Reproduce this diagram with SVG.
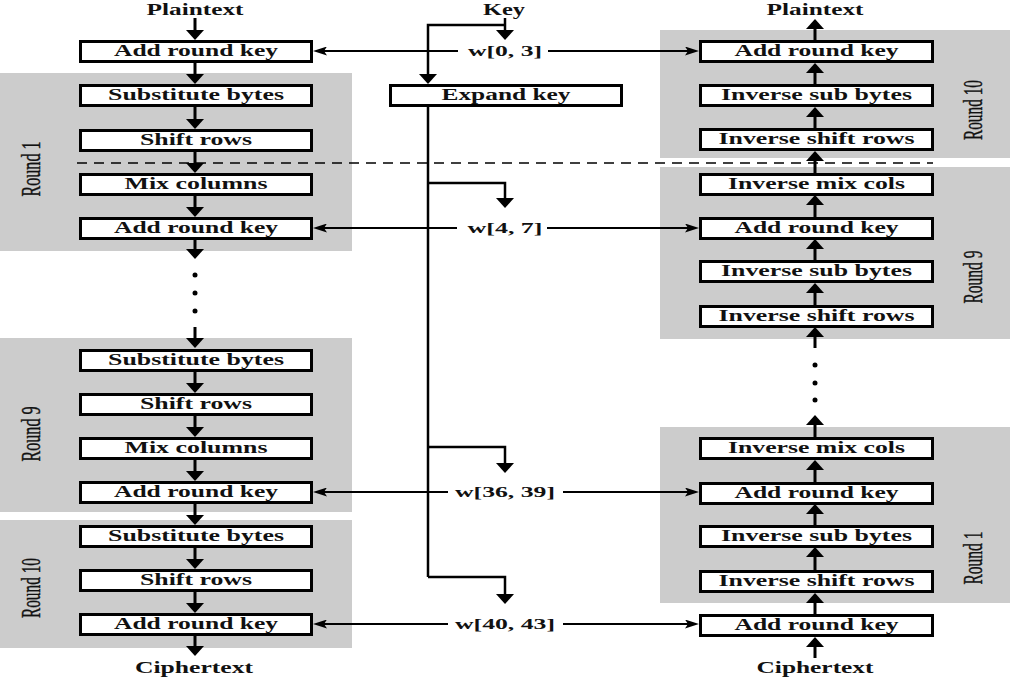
<svg xmlns="http://www.w3.org/2000/svg" width="1012" height="679" viewBox="0 0 1012 679">
<style>
.panel{fill:#cccccc}
.box{fill:#fff;stroke:#000;stroke-width:3}
.lbl{font-family:"Liberation Serif",serif;font-weight:bold;font-size:16px;text-anchor:middle;fill:#111}
.wl{font-family:"Liberation Serif",serif;font-weight:bold;font-size:15px;text-anchor:middle;fill:#111}
.rnd{font-family:"Liberation Serif",serif;font-size:27px;text-anchor:middle;fill:#111;stroke:#111;stroke-width:0.4}
.flow{stroke:#000;stroke-width:3;fill:none;marker-end:url(#ah)}
.key{stroke:#000;stroke-width:2.5;fill:none}
.keya{stroke:#000;stroke-width:2.5;fill:none;marker-end:url(#ah)}
.wa{stroke:#000;stroke-width:2;fill:none;marker-end:url(#wh)}
.dot{fill:#000}
.dash{stroke:#000;stroke-width:1.5;stroke-dasharray:10 7;fill:none}
</style>
<defs>
<marker id="ah" markerUnits="userSpaceOnUse" viewBox="0 0 10 18" markerWidth="10" markerHeight="18" refX="4" refY="9" orient="auto">
<path d="M0,0 L10,9 L0,18 Z" fill="#000"/>
</marker>
<marker id="wh" markerUnits="userSpaceOnUse" viewBox="0 0 14 9" markerWidth="14" markerHeight="9" refX="8" refY="4.5" orient="auto">
<path d="M0,0 L14,4.5 L0,9 L3,4.5 Z" fill="#000"/>
</marker>
</defs>

<g id="panels">
<rect class="panel" x="0" y="73" width="352" height="178"/>
<rect class="panel" x="0" y="338" width="352" height="174"/>
<rect class="panel" x="0" y="520" width="352" height="128"/>
<rect class="panel" x="660" y="30" width="350" height="128"/>
<rect class="panel" x="660" y="167" width="350" height="172"/>
<rect class="panel" x="660" y="427" width="350" height="176"/>
</g>

<g id="round-labels">
<text class="rnd" transform="translate(40,169) rotate(-90)" textLength="55" lengthAdjust="spacingAndGlyphs">Round 1</text>
<text class="rnd" transform="translate(40,434) rotate(-90)" textLength="55" lengthAdjust="spacingAndGlyphs">Round 9</text>
<text class="rnd" transform="translate(40,588) rotate(-90)" textLength="60" lengthAdjust="spacingAndGlyphs">Round 10</text>
<text class="rnd" transform="translate(982,110) rotate(-90)" textLength="60" lengthAdjust="spacingAndGlyphs">Round 10</text>
<text class="rnd" transform="translate(982,277) rotate(-90)" textLength="53" lengthAdjust="spacingAndGlyphs">Round 9</text>
<text class="rnd" transform="translate(982,558) rotate(-90)" textLength="53" lengthAdjust="spacingAndGlyphs">Round 1</text>
</g>

<path class="dash" d="M77,163 H933"/>

<g id="connectors">
<path class="flow" d="M195,18 V34"/>
<path class="flow" d="M195,63 V78"/>
<path class="flow" d="M195,107 V123"/>
<path class="flow" d="M195,151 V167"/>
<path class="flow" d="M195,195 V211"/>
<path class="flow" d="M195,239 V253"/>
<path class="flow" d="M195,327 V342"/>
<path class="flow" d="M195,372 V387"/>
<path class="flow" d="M195,415 V431"/>
<path class="flow" d="M195,460 V475"/>
<path class="flow" d="M195,504 V519"/>
<path class="flow" d="M195,547 V563"/>
<path class="flow" d="M195,591 V607"/>
<path class="flow" d="M195,635 V650"/>
<path class="flow" d="M815,40 V25"/>
<path class="flow" d="M815,84 V69"/>
<path class="flow" d="M815,128 V113"/>
<path class="flow" d="M815,173 V157"/>
<path class="flow" d="M815,217 V201"/>
<path class="flow" d="M815,260 V245"/>
<path class="flow" d="M815,305 V289"/>
<path class="flow" d="M815,348 V333"/>
<path class="flow" d="M815,437 V421"/>
<path class="flow" d="M815,482 V466"/>
<path class="flow" d="M815,525 V510"/>
<path class="flow" d="M815,570 V553"/>
<path class="flow" d="M815,614 V599"/>
<path class="flow" d="M815,658 V643"/>
<path class="keya" d="M505,18 V34"/>
<path class="keya" d="M505,25 H428 V78"/>
<path class="key" d="M428,107 V577"/>
<path class="keya" d="M428,183 H505 V202"/>
<path class="keya" d="M428,447 H505 V467"/>
<path class="keya" d="M428,577 H505 V598"/>
<path class="wa" d="M458,51 H319"/>
<path class="wa" d="M548,51 H693"/>
<path class="wa" d="M457,228 H319"/>
<path class="wa" d="M547,228 H693"/>
<path class="wa" d="M448,492 H319"/>
<path class="wa" d="M563,492 H693"/>
<path class="wa" d="M448,624 H319"/>
<path class="wa" d="M563,624 H693"/>
<circle class="dot" cx="195" cy="275" r="2.5"/>
<circle class="dot" cx="195" cy="293" r="2.5"/>
<circle class="dot" cx="195" cy="311" r="2.5"/>
<circle class="dot" cx="815" cy="365" r="2.5"/>
<circle class="dot" cx="815" cy="383" r="2.5"/>
<circle class="dot" cx="815" cy="400" r="2.5"/>
</g>

<g id="terminals">
<text class="lbl" x="195" y="15" textLength="97" lengthAdjust="spacingAndGlyphs">Plaintext</text>
<text class="lbl" x="815" y="15" textLength="97" lengthAdjust="spacingAndGlyphs">Plaintext</text>
<text class="lbl" x="504" y="15" textLength="42" lengthAdjust="spacingAndGlyphs">Key</text>
<text class="lbl" x="194" y="673" textLength="118" lengthAdjust="spacingAndGlyphs">Ciphertext</text>
<text class="lbl" x="815" y="673" textLength="117" lengthAdjust="spacingAndGlyphs">Ciphertext</text>
</g>

<g id="w-labels">
<text class="wl" x="505" y="56" textLength="74" lengthAdjust="spacingAndGlyphs">w[0, 3]</text>
<text class="wl" x="505" y="233" textLength="75" lengthAdjust="spacingAndGlyphs">w[4, 7]</text>
<text class="wl" x="505" y="497" textLength="100" lengthAdjust="spacingAndGlyphs">w[36, 39]</text>
<text class="wl" x="505" y="629" textLength="100" lengthAdjust="spacingAndGlyphs">w[40, 43]</text>
</g>

<g id="expand-key"><rect class="box" x="390.5" y="85.5" width="231" height="20"/><text class="lbl" x="506" y="100" textLength="129" lengthAdjust="spacingAndGlyphs">Expand key</text></g>

<g id="enc-ark0"><rect class="box" x="80.5" y="41.5" width="231" height="20"/><text class="lbl" x="196" y="56" textLength="164" lengthAdjust="spacingAndGlyphs">Add round key</text></g>
<g id="enc-r1-sub"><rect class="box" x="80.5" y="85.5" width="231" height="20"/><text class="lbl" x="196" y="100" textLength="176" lengthAdjust="spacingAndGlyphs">Substitute bytes</text></g>
<g id="enc-r1-shift"><rect class="box" x="80.5" y="130.5" width="231" height="20"/><text class="lbl" x="196" y="145" textLength="112" lengthAdjust="spacingAndGlyphs">Shift rows</text></g>
<g id="enc-r1-mix"><rect class="box" x="80.5" y="174.5" width="231" height="20"/><text class="lbl" x="196" y="189" textLength="143" lengthAdjust="spacingAndGlyphs">Mix columns</text></g>
<g id="enc-r1-ark"><rect class="box" x="80.5" y="218.5" width="231" height="20"/><text class="lbl" x="196" y="233" textLength="164" lengthAdjust="spacingAndGlyphs">Add round key</text></g>
<g id="enc-r9-sub"><rect class="box" x="80.5" y="350.5" width="231" height="20"/><text class="lbl" x="196" y="365" textLength="176" lengthAdjust="spacingAndGlyphs">Substitute bytes</text></g>
<g id="enc-r9-shift"><rect class="box" x="80.5" y="394.5" width="231" height="20"/><text class="lbl" x="196" y="409" textLength="112" lengthAdjust="spacingAndGlyphs">Shift rows</text></g>
<g id="enc-r9-mix"><rect class="box" x="80.5" y="438.5" width="231" height="20"/><text class="lbl" x="196" y="453" textLength="143" lengthAdjust="spacingAndGlyphs">Mix columns</text></g>
<g id="enc-r9-ark"><rect class="box" x="80.5" y="482.5" width="231" height="20"/><text class="lbl" x="196" y="497" textLength="164" lengthAdjust="spacingAndGlyphs">Add round key</text></g>
<g id="enc-r10-sub"><rect class="box" x="80.5" y="526.5" width="231" height="20"/><text class="lbl" x="196" y="541" textLength="176" lengthAdjust="spacingAndGlyphs">Substitute bytes</text></g>
<g id="enc-r10-shift"><rect class="box" x="80.5" y="570.5" width="231" height="20"/><text class="lbl" x="196" y="585" textLength="112" lengthAdjust="spacingAndGlyphs">Shift rows</text></g>
<g id="enc-r10-ark"><rect class="box" x="80.5" y="614.5" width="231" height="20"/><text class="lbl" x="196" y="629" textLength="164" lengthAdjust="spacingAndGlyphs">Add round key</text></g>

<g id="dec-r10-ark"><rect class="box" x="700.5" y="41.5" width="232" height="20"/><text class="lbl" x="816.5" y="56" textLength="164" lengthAdjust="spacingAndGlyphs">Add round key</text></g>
<g id="dec-r10-isub"><rect class="box" x="700.5" y="85.5" width="232" height="20"/><text class="lbl" x="816.5" y="100" textLength="191" lengthAdjust="spacingAndGlyphs">Inverse sub bytes</text></g>
<g id="dec-r10-ishift"><rect class="box" x="700.5" y="129.5" width="232" height="20"/><text class="lbl" x="816.5" y="144" textLength="196" lengthAdjust="spacingAndGlyphs">Inverse shift rows</text></g>
<g id="dec-r9-imix"><rect class="box" x="700.5" y="174.5" width="232" height="20"/><text class="lbl" x="816.5" y="189" textLength="177" lengthAdjust="spacingAndGlyphs">Inverse mix cols</text></g>
<g id="dec-r9-ark"><rect class="box" x="700.5" y="218.5" width="232" height="20"/><text class="lbl" x="816.5" y="233" textLength="164" lengthAdjust="spacingAndGlyphs">Add round key</text></g>
<g id="dec-r9-isub"><rect class="box" x="700.5" y="261.5" width="232" height="20"/><text class="lbl" x="816.5" y="276" textLength="191" lengthAdjust="spacingAndGlyphs">Inverse sub bytes</text></g>
<g id="dec-r9-ishift"><rect class="box" x="700.5" y="306.5" width="232" height="20"/><text class="lbl" x="816.5" y="321" textLength="196" lengthAdjust="spacingAndGlyphs">Inverse shift rows</text></g>
<g id="dec-r1-imix"><rect class="box" x="700.5" y="438.5" width="232" height="20"/><text class="lbl" x="816.5" y="453" textLength="177" lengthAdjust="spacingAndGlyphs">Inverse mix cols</text></g>
<g id="dec-r1-ark"><rect class="box" x="700.5" y="483.5" width="232" height="20"/><text class="lbl" x="816.5" y="498" textLength="164" lengthAdjust="spacingAndGlyphs">Add round key</text></g>
<g id="dec-r1-isub"><rect class="box" x="700.5" y="526.5" width="232" height="20"/><text class="lbl" x="816.5" y="541" textLength="191" lengthAdjust="spacingAndGlyphs">Inverse sub bytes</text></g>
<g id="dec-r1-ishift"><rect class="box" x="700.5" y="571.5" width="232" height="20"/><text class="lbl" x="816.5" y="586" textLength="196" lengthAdjust="spacingAndGlyphs">Inverse shift rows</text></g>
<g id="dec-ark-final"><rect class="box" x="700.5" y="615.5" width="232" height="20"/><text class="lbl" x="816.5" y="630" textLength="164" lengthAdjust="spacingAndGlyphs">Add round key</text></g>
</svg>
